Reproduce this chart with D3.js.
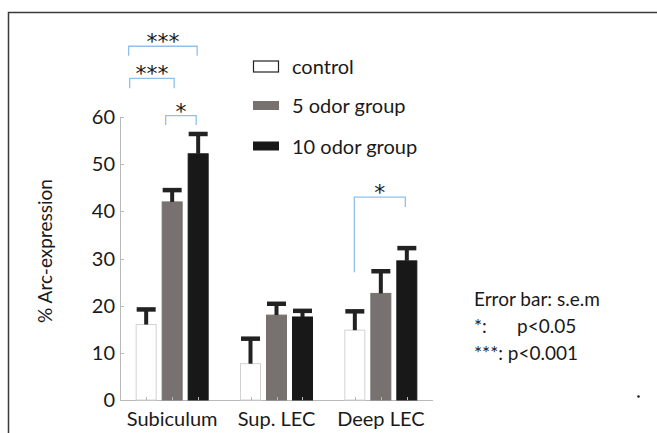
<!DOCTYPE html>
<html>
<head>
<meta charset="utf-8">
<script src="https://cdn.jsdelivr.net/npm/d3@7"></script>
<style>
  body { margin: 0; background: #fff; }
  svg { display: block; font-family: Lato, "Open Sans", sans-serif; }
</style>
</head>
<body>
<svg id="chart" width="657" height="433"></svg>
<script>
// datos
const regiones = ["Subiculum", "Sup. LEC", "Deep LEC"];
const grupos = ["control", "5 odor group", "10 odor group"];
const control = [16.0, 7.7, 14.8];
const control_sem = [3.2, 5.3, 4.0];
const odor5 = [42.0, 18.0, 22.6];
const odor5_sem = [2.5, 2.4, 4.7];
const odor10 = [52.2, 17.6, 29.5];
const odor10_sem = [4.2, 1.3, 2.7];
const yTicks = [0, 10, 20, 30, 40, 50, 60];
// brackets de significancia: region, grupo izq, grupo der, nivel, pie izq, pie der, etiqueta
const signif = [
  { region: 0, from: 0, to: 2, level: 75.0, legL: 73.0, legR: 73.0, label: "***" },
  { region: 0, from: 0, to: 1, level: 68.2, legL: 66.1, legR: 66.1, label: "***" },
  { region: 0, from: 1, to: 2, level: 60.3, legL: 58.3, legR: 58.3, label: "*" },
  { region: 2, from: 0, to: 2, level: 43.0, legL: 27.1, legR: 40.9, label: "*" }
];
const notas = ["Error bar: s.e.m", "*:", "***: p<0.001"];

const colores = ["#ffffff", "#77726f", "#181818"];
const bordes = ["#d2d2d2", "#77726f", "#181818"];
const valores = [control, odor5, odor10];
const errores = [control_sem, odor5_sem, odor10_sem];

const svg = d3.select("#chart");

// marco de la figura
svg.append("path")
  .attr("d", "M8.5,433 V12.5 H657")
  .attr("fill", "none")
  .attr("stroke", "#3a3a3a")
  .attr("stroke-width", 1.5);

const y = d3.scaleLinear().domain([0, 60]).range([400, 117]);
const x0 = d3.scaleBand().domain(regiones).range([120, 433]);
const x1 = d3.scaleBand().domain(d3.range(grupos.length))
  .range([x0.bandwidth() / 2 - 36.5, x0.bandwidth() / 2 + 36.5])
  .paddingInner(0.192);

const centro = (r, g) => x0(regiones[r]) + x1(g) + x1.bandwidth() / 2;

// ejes
const ejeColor = "#b9b9b9";
svg.append("line").attr("x1", 120.5).attr("x2", 120.5)
  .attr("y1", y(60)).attr("y2", y(0))
  .attr("stroke", ejeColor);
svg.append("line").attr("x1", 120).attr("x2", 433)
  .attr("y1", y(0) + 0.5).attr("y2", y(0) + 0.5)
  .attr("stroke", ejeColor);

const gy = svg.append("g");
gy.selectAll("line").data(yTicks).join("line")
  .attr("x1", 120).attr("x2", 124)
  .attr("y1", d => Math.round(y(d)) + 0.5).attr("y2", d => Math.round(y(d)) + 0.5)
  .attr("stroke", ejeColor);
gy.selectAll("text").data(yTicks).join("text")
  .attr("x", 115).attr("y", d => y(d))
  .attr("dy", "0.35em")
  .attr("text-anchor", "end")
  .attr("font-size", 20)
  .attr("fill", "#1a1a1a")
  .text(d => d);

svg.append("text")
  .attr("transform", "translate(52,251) rotate(-90)")
  .attr("text-anchor", "middle")
  .attr("font-size", 19)
  .attr("fill", "#1a1a1a")
  .text("% Arc-expression");

svg.append("g").selectAll("text").data(regiones).join("text")
  .attr("x", d => x0(d) + x0.bandwidth() / 2)
  .attr("y", 426)
  .attr("text-anchor", "middle")
  .attr("font-size", 20)
  .attr("fill", "#1a1a1a")
  .text(d => d);

// barras
grupos.forEach((g, gi) => {
  const capa = svg.append("g");
  capa.selectAll("rect").data(valores[gi]).join("rect")
    .attr("x", (d, i) => x0(regiones[i]) + x1(gi) + 0.5)
    .attr("y", d => y(d))
    .attr("width", x1.bandwidth() - 1)
    .attr("height", d => y(0) - y(d))
    .attr("fill", colores[gi])
    .attr("stroke", bordes[gi])
    .attr("stroke-width", 1);
  // barras de error
  capa.selectAll("line.stem").data(valores[gi]).join("line")
    .attr("class", "stem")
    .attr("x1", (d, i) => centro(i, gi)).attr("x2", (d, i) => centro(i, gi))
    .attr("y1", d => y(d)).attr("y2", (d, i) => y(d + errores[gi][i]))
    .attr("stroke", "#222").attr("stroke-width", 4);
  capa.selectAll("line.cap").data(valores[gi]).join("line")
    .attr("class", "cap")
    .attr("x1", (d, i) => centro(i, gi) - 9.5).attr("x2", (d, i) => centro(i, gi) + 9.5)
    .attr("y1", (d, i) => y(d + errores[gi][i]))
    .attr("y2", (d, i) => y(d + errores[gi][i]))
    .attr("stroke", "#222").attr("stroke-width", 4.5);
  // marcas del eje x
  capa.selectAll("line.tick").data(valores[gi]).join("line")
    .attr("class", "tick")
    .attr("x1", (d, i) => Math.round(centro(i, gi)) + 0.5)
    .attr("x2", (d, i) => Math.round(centro(i, gi)) + 0.5)
    .attr("y1", y(0)).attr("y2", y(0) - 3)
    .attr("stroke", ejeColor);
});

// brackets
const offs = [[-17.5, -1], [-16.5, 2], [-6.5, -2], [-0.5, -1.5]];
const br = svg.append("g");
signif.forEach((s, k) => {
  const xa = centro(s.region, s.from) + offs[k][0];
  const xb = centro(s.region, s.to) + offs[k][1];
  br.append("path")
    .attr("d", `M${xa},${y(s.legL)} V${y(s.level)} H${xb} V${y(s.legR)}`)
    .attr("fill", "none")
    .attr("stroke", "#8fc1ea")
    .attr("stroke-width", 1.3);
  br.append("text")
    .attr("x", (xa + xb) / 2)
    .attr("y", y(s.level) + 3)
    .attr("text-anchor", "middle")
    .attr("font-family", "'DejaVu Sans', sans-serif")
    .attr("font-size", 22)
    .attr("letter-spacing", 0)
    .attr("fill", "#1a1a1a")
    .text(s.label);
});

// leyenda
const ley = svg.append("g");
const filas = [66.5, 105.5, 146];
grupos.forEach((g, gi) => {
  const alto = gi === 0 ? 11 : 8;
  ley.append("rect")
    .attr("x", 253.5).attr("y", filas[gi] - alto / 2)
    .attr("width", 25).attr("height", alto)
    .attr("fill", colores[gi])
    .attr("stroke", gi === 0 ? "#222" : colores[gi])
    .attr("stroke-width", gi === 0 ? 1.2 : 1);
  ley.append("text")
    .attr("x", 292).attr("y", filas[gi] + 7.5)
    .attr("font-size", 20)
    .attr("fill", "#1a1a1a")
    .text(g);
});

// notas a la derecha
const nt = svg.append("g").attr("font-size", 19).attr("fill", "#1a1a1a");
nt.append("text").attr("x", 474).attr("y", 306).text(notas[0]);
nt.append("text").attr("x", 474).attr("y", 333).text(notas[1]);
nt.append("text").attr("x", 517).attr("y", 333).text("p<0.05");
nt.append("text").attr("x", 474).attr("y", 360).text(notas[2]);
svg.append("circle").attr("cx", 638.5).attr("cy", 396.5).attr("r", 1.3).attr("fill", "#222");
</script>
</body>
</html>
